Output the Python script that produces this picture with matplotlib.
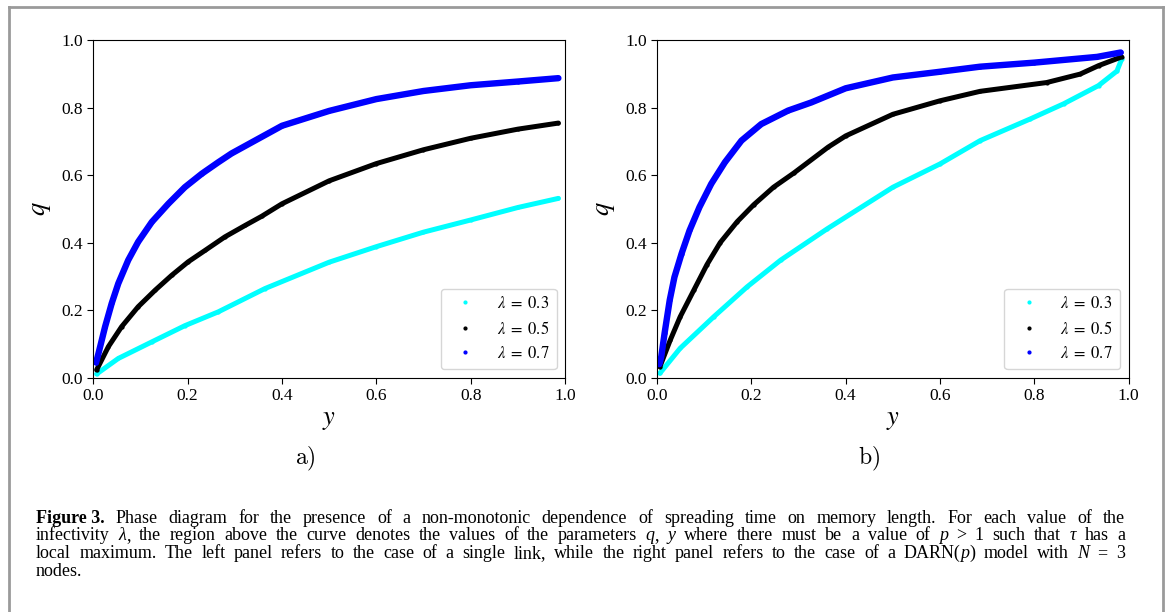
import matplotlib
matplotlib.use('Agg')
import matplotlib.pyplot as plt
from matplotlib.lines import Line2D

plt.rcParams['font.family'] = ['Liberation Serif', 'DejaVu Serif']
plt.rcParams['mathtext.fontset'] = 'stix'

# --- values ---
# panel a) single link
ya_blue = [0.006, 0.011, 0.025, 0.039, 0.053, 0.074, 0.095, 0.124, 0.159, 0.194, 0.23, 0.265, 0.293,
           0.4, 0.5, 0.6, 0.7, 0.8, 0.9, 0.986]
qa_blue = [0.045, 0.072, 0.151, 0.22, 0.279, 0.348, 0.402, 0.461, 0.515, 0.564, 0.604, 0.638, 0.664,
           0.746, 0.79, 0.825, 0.849, 0.866, 0.877, 0.887]
ya_black = [0.007, 0.032, 0.06, 0.095, 0.131, 0.166, 0.201, 0.237, 0.279, 0.322, 0.357,
            0.4, 0.5, 0.6, 0.7, 0.8, 0.9, 0.986]
qa_black = [0.023, 0.092, 0.151, 0.21, 0.259, 0.303, 0.343, 0.377, 0.417, 0.451, 0.478,
            0.515, 0.583, 0.634, 0.675, 0.709, 0.736, 0.754]
ya_cyan = [0.007, 0.053, 0.124, 0.194, 0.265, 0.364, 0.5, 0.6, 0.7, 0.8, 0.9, 0.986]
qa_cyan = [0.011, 0.057, 0.106, 0.154, 0.195, 0.264, 0.342, 0.388, 0.431, 0.467, 0.504, 0.531]

# panel b) DARN(p), N = 3
yb_blue = [0.005, 0.009, 0.016, 0.027, 0.037, 0.052, 0.069, 0.09, 0.115, 0.144, 0.179, 0.221, 0.278, 0.327,
           0.4, 0.5, 0.6, 0.685, 0.8, 0.933, 0.983]
qb_blue = [0.04, 0.062, 0.131, 0.23, 0.298, 0.367, 0.436, 0.505, 0.574, 0.638, 0.702, 0.751, 0.791, 0.815,
           0.857, 0.889, 0.906, 0.921, 0.933, 0.95, 0.963]
yb_black = [0.006, 0.028, 0.049, 0.078, 0.106, 0.134, 0.17, 0.205, 0.247, 0.29, 0.363,
            0.4, 0.5, 0.6, 0.685, 0.826, 0.897, 0.936, 0.985]
qb_black = [0.032, 0.111, 0.18, 0.259, 0.335, 0.40, 0.462, 0.512, 0.564, 0.606, 0.683,
            0.716, 0.78, 0.82, 0.848, 0.874, 0.899, 0.924, 0.95]
yb_cyan = [0.006, 0.049, 0.12, 0.191, 0.262, 0.361, 0.5, 0.6, 0.685, 0.791, 0.862, 0.936, 0.975, 0.985]
qb_cyan = [0.013, 0.087, 0.18, 0.269, 0.348, 0.441, 0.564, 0.633, 0.702, 0.766, 0.811, 0.865, 0.908, 0.943]

labels = [r'$\lambda\;=\;0.3$', r'$\lambda\;=\;0.5$', r'$\lambda\;=\;0.7$']
colors = ['cyan', 'black', 'blue']
ticks = [0.0, 0.2, 0.4, 0.6, 0.8, 1.0]

# caption words; a word may be a list of (text, style) pieces set without a gap
B, I = 'bold', 'italic'
caption = [
    [[('Figure 3.', B)], 'Phase', 'diagram', 'for', 'the', 'presence', 'of', 'a', 'non-monotonic', 'dependence',
     'of', 'spreading', 'time', 'on', 'memory', 'length.', 'For', 'each', 'value', 'of', 'the'],
    ['infectivity', [('λ', I), (',', '')], 'the', 'region', 'above', 'the', 'curve', 'denotes', 'the', 'values',
     'of', 'the', 'parameters', [('q', I), (',', '')], [('y', I)], 'where', 'there', 'must', 'be', 'a', 'value',
     'of', [('p', I)], '>', '1', 'such', 'that', [('τ', I)], 'has', 'a'],
    ['local', 'maximum.', 'The', 'left', 'panel', 'refers', 'to', 'the', 'case', 'of', 'a', 'single', 'link,',
     'while', 'the', 'right', 'panel', 'refers', 'to', 'the', 'case', 'of', 'a',
     [('DARN(', ''), ('p', I), (')', '')], 'model', 'with', [('N', I)], '=', '3'],
    ['nodes.'],
]

W, H = 1168, 612
fig = plt.figure(figsize=(W / 100, H / 100), dpi=100)

# gray frame around the figure
for xs, ys in [([9, 9], [0, 7]), ([1163, 1163], [0, 7]), ([9, 1163], [7, 7])]:
    fig.add_artist(Line2D([x / W for x in xs], [1 - y / H if y else 0 for y in ys],
                          color='#9a9a9a', lw=2, transform=fig.transFigure))

panels = [
    ([ya_cyan, ya_black, ya_blue], [qa_cyan, qa_black, qa_blue], 93.3, r'$\mathrm{a)}$'),
    ([yb_cyan, yb_black, yb_blue], [qb_cyan, qb_black, qb_blue], 657, r'$\mathrm{b)}$'),
]

for xs, qs, left, tag in panels:
    ax = fig.add_axes([left / W, 1 - 377.7 / H, 471.7 / W, 337.7 / H])
    for x, q, c, lab, lw in zip(xs, qs, colors, labels, [3.6, 3.6, 4.6]):
        ax.plot(x, q, '-', color=c, lw=lw, solid_capstyle='round')
        ax.plot(x, q, '.', color=c, ms=4, label=lab)
    ax.set_xlim(0, 1)
    ax.set_ylim(0, 1)
    ax.set_xticks(ticks)
    ax.set_yticks(ticks)
    ax.tick_params(labelsize=12.5, length=4, direction='out')
    ax.set_xlabel(r'$y$', fontsize=19, labelpad=4)
    ax.set_ylabel(r'$q$', fontsize=19, labelpad=6)
    ax.legend(loc='lower right', fontsize=12, handlelength=2.0, handletextpad=0.9,
              labelspacing=0.5, borderpad=0.45, borderaxespad=0.5, framealpha=0.8)
    ax.text(0.45, -0.2, tag, transform=ax.transAxes, ha='center', va='top', fontsize=17,
            math_fontfamily='cm')

# caption, justified like the journal layout
cap_size = 13
x_left, x_right = 36, 1125
baselines = [523, 540.5, 558, 575.5]
fig.canvas.draw()
r = fig.canvas.get_renderer()
for n, (words, yb) in enumerate(zip(caption, baselines)):
    items = []
    for w in words:
        pieces = w if isinstance(w, list) else [(w, '')]
        arts = []
        width = 0
        for s, st in pieces:
            t = fig.text(0, 1 - yb / H, s, fontsize=cap_size, va='baseline',
                         fontweight='bold' if st == B else 'normal',
                         fontstyle='italic' if st == I else 'normal')
            wd = t.get_window_extent(renderer=r).width
            arts.append((t, width))
            width += wd
        items.append((arts, width))
    total = sum(wd for _, wd in items)
    last = n == len(caption) - 1
    gap = 4 if last or len(items) < 2 else (x_right - x_left - total) / (len(items) - 1)
    xpos = x_left
    for arts, wd in items:
        for t, off in arts:
            t.set_x((xpos + off) / W)
        xpos += wd + gap

fig.savefig('out.png', dpi=100)
